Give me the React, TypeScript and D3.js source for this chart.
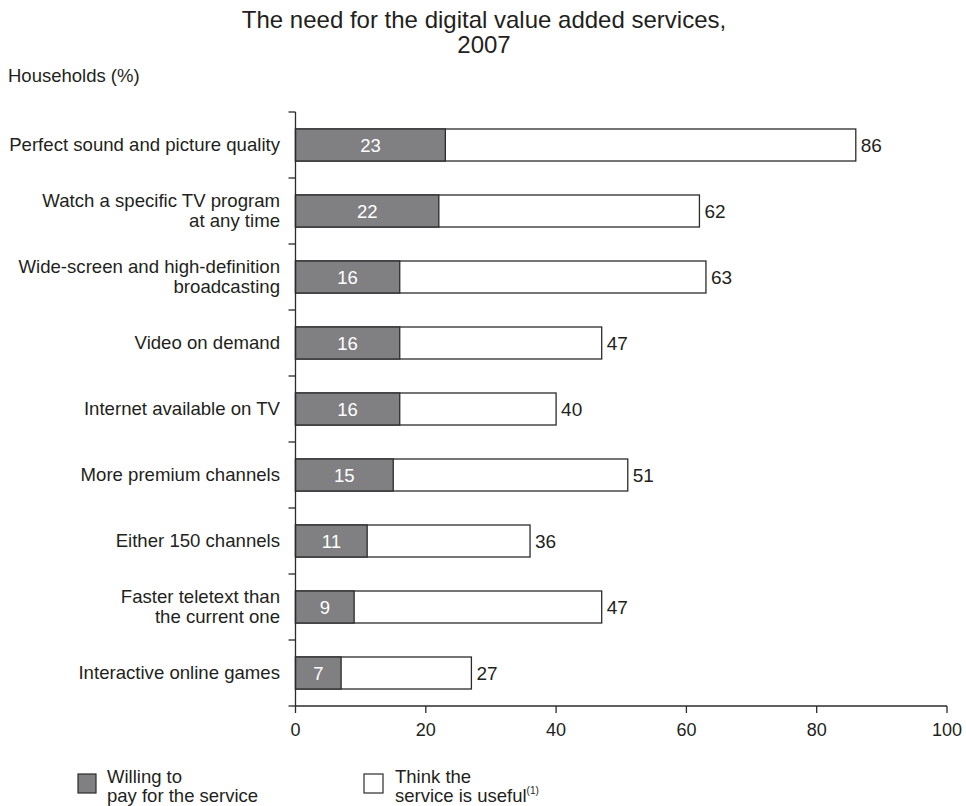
import React from "react";
import * as d3 from "d3";

const categories: string[][] = [
  ["Perfect sound and picture quality"],
  ["Watch a specific TV program", "at any time"],
  ["Wide-screen and high-definition", "broadcasting"],
  ["Video on demand"],
  ["Internet available on TV"],
  ["More premium channels"],
  ["Either 150 channels"],
  ["Faster teletext than", "the current one"],
  ["Interactive online games"],
];
const willingToPay: number[] = [23, 22, 16, 16, 16, 15, 11, 9, 7];
const thinkUseful: number[] = [86, 62, 63, 47, 40, 51, 36, 47, 27];
const xTicks: number[] = [0, 20, 40, 60, 80, 100];

const FONT = "'Liberation Sans', Arial, Helvetica, sans-serif";
const TEXT = "#231f20";
const DARK = "#808083";
const STROKE = "#2b2b2b";
const LABEL_SIZE = 18.6;

export default function App() {
  const W = 966;
  const H = 806;
  const x = d3.scaleLinear().domain([0, 100]).range([295.5, 947]);
  const keys = categories.map((_, i) => String(i));
  const y = d3
    .scaleBand<string>()
    .domain(keys)
    .range([112, 706])
    .paddingInner(0.5)
    .paddingOuter(0.25);
  const step = y.step();
  const bw = 32;
  const axisY = 706;

  return (
    <svg width={W} height={H} style={{ position: "absolute", left: 0, top: 0, background: "#fff" }} fontFamily={FONT}>
      <rect x={0} y={0} width={W} height={H} fill="#fff" />
      {/* Title */}
      <text x={484} y={28} textAnchor="middle" fontSize={24} fill={TEXT}>
        The need for the digital value added services,
      </text>
      <text x={484} y={53} textAnchor="middle" fontSize={24} fill={TEXT}>
        2007
      </text>
      <text x={8} y={82} fontSize={18.5} fill={TEXT}>
        Households (%)
      </text>

      {/* Bars */}
      {keys.map((k, i) => {
        const c = (y(k) as number) + y.bandwidth() / 2;
        const top = c - bw / 2;
        return (
          <g key={k}>
            <rect
              x={x(0)}
              y={top}
              width={x(thinkUseful[i]) - x(0)}
              height={bw}
              fill="#fff"
              stroke={STROKE}
              strokeWidth={1.3}
            />
            <rect
              x={x(0)}
              y={top}
              width={x(willingToPay[i]) - x(0)}
              height={bw}
              fill={DARK}
              stroke={STROKE}
              strokeWidth={1.3}
            />
            <text
              x={(x(0) + x(willingToPay[i])) / 2}
              y={c + 6.5}
              textAnchor="middle"
              fontSize={18.5}
              fill="#fff"
            >
              {willingToPay[i]}
            </text>
            <text x={x(thinkUseful[i]) + 5} y={c + 6.5} fontSize={19} fill={TEXT}>
              {thinkUseful[i]}
            </text>
            {categories[i].length === 1 ? (
              <text x={280} y={c + 6} textAnchor="end" fontSize={LABEL_SIZE} fill={TEXT}>
                {categories[i][0]}
              </text>
            ) : (
              categories[i].map((line, j) => (
                <text key={j} x={280} y={c - 4 + j * 20} textAnchor="end" fontSize={LABEL_SIZE} fill={TEXT}>
                  {line}
                </text>
              ))
            )}
          </g>
        );
      })}

      {/* Y axis */}
      <line x1={x(0)} x2={x(0)} y1={112} y2={axisY} stroke={STROKE} strokeWidth={1.3} />
      {d3.range(keys.length + 1).map((i) => {
        const yy = 112 + i * step;
        return <line key={i} x1={x(0) - 7} x2={x(0)} y1={yy} y2={yy} stroke={STROKE} strokeWidth={1.3} />;
      })}

      {/* X axis */}
      <line x1={x(0)} x2={x(100)} y1={axisY} y2={axisY} stroke={STROKE} strokeWidth={1.3} />
      {xTicks.map((t) => (
        <g key={t}>
          <line x1={x(t)} x2={x(t)} y1={axisY} y2={axisY + 7} stroke={STROKE} strokeWidth={1.3} />
          <text x={x(t)} y={axisY + 30} textAnchor="middle" fontSize={18} fill={TEXT}>
            {t}
          </text>
        </g>
      ))}

      {/* Legend */}
      <rect x={78} y={774} width={18} height={19} fill={DARK} stroke={STROKE} strokeWidth={1.2} />
      <text x={107} y={783} fontSize={18.5} fill={TEXT}>Willing to</text>
      <text x={107} y={802} fontSize={18.5} fill={TEXT}>pay for the service</text>
      <rect x={364} y={774} width={19} height={19} fill="#fff" stroke={STROKE} strokeWidth={1.2} />
      <text x={395} y={783} fontSize={18.5} fill={TEXT}>Think the</text>
      <text x={395} y={802} fontSize={18.5} fill={TEXT}>
        service is useful
        <tspan fontSize={10} dy={-8}>(1)</tspan>
      </text>
    </svg>
  );
}
